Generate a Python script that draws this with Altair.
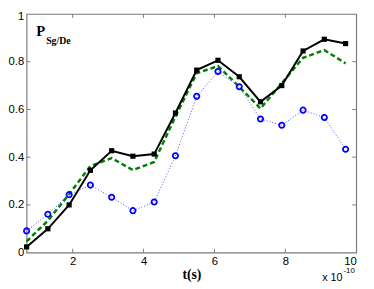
import altair as alt
import pandas as pd

# ---- data ----
t_vals = [0.7, 1.3, 1.9, 2.5, 3.1, 3.7, 4.3, 4.9, 5.5, 6.1, 6.7, 7.3, 7.9, 8.5, 9.1, 9.7]
black_vals = [0.024, 0.100, 0.200, 0.345, 0.427, 0.404, 0.413, 0.585, 0.765, 0.806,
              0.737, 0.632, 0.700, 0.845, 0.894, 0.876]
green_vals = [0.047, 0.134, 0.245, 0.363, 0.396, 0.346, 0.380, 0.570, 0.752, 0.782,
              0.695, 0.604, 0.710, 0.816, 0.849, 0.793]
blue_vals = [0.091, 0.161, 0.243, 0.283, 0.232, 0.176, 0.212, 0.406, 0.655, 0.759,
             0.695, 0.560, 0.534, 0.597, 0.566, 0.433]

x_ticks = [2, 4, 6, 8, 10]
y_ticks = [0, 0.2, 0.4, 0.6, 0.8, 1]
x_inner_ticks = [2, 4, 6, 8]
y_inner_ticks = [0.2, 0.4, 0.6, 0.8]

df = pd.DataFrame({"t": t_vals, "black": black_vals, "green": green_vals, "blue": blue_vals})
xt_df = pd.DataFrame({"t": x_inner_ticks})
yt_df = pd.DataFrame({"p": y_inner_ticks})

W, H = 337, 244
FRAME = "#7a7a7a"

xs = alt.Scale(domain=[0.7, 10], nice=False, zero=False)
ys = alt.Scale(domain=[0, 1], nice=False, zero=False)

x_axis = alt.Axis(values=x_ticks, title="t(s)", tickSize=0, domain=False, grid=False,
                  labelFont="Liberation Sans", labelFontSize=11.5, labelColor="black",
                  labelPadding=3, titleFont="Liberation Serif", titleFontWeight="bold",
                  titleFontSize=14, titleColor="black", titlePadding=1)
y_axis = alt.Axis(values=y_ticks, title=None, format="~g", tickSize=0, domain=False,
                  grid=False, labelFont="Liberation Sans", labelFontSize=11.5,
                  labelColor="black", labelPadding=3,
                  labelOffset={"condition": {"test": "datum.value == 1", "value": 2.5}, "value": 0})

X = alt.X("t:Q", scale=xs, axis=x_axis)


def Y(field):
    return alt.Y(f"{field}:Q", scale=ys, axis=y_axis)


base = alt.Chart(df)

blue_line = base.mark_line(color="#4d4dff", strokeWidth=1, strokeDash=[1, 2]).encode(x=X, y=Y("blue"))
green_line = base.mark_line(color="#008000", strokeWidth=2.5, strokeDash=[5, 3]).encode(x=X, y=Y("green"))
black_line = base.mark_line(color="black", strokeWidth=2).encode(x=X, y=Y("black"))
black_pts = base.mark_point(shape="square", filled=True, color="black", size=28, opacity=1).encode(x=X, y=Y("black"))
blue_pts = base.mark_point(shape="circle", filled=False, color="#0000ff", size=30,
                           strokeWidth=1.8, opacity=1).encode(x=X, y=Y("blue"))

# inward ticks on all four sides
tick_b = alt.Chart(xt_df).mark_rule(color=FRAME, strokeWidth=1).encode(
    x=alt.X("t:Q", scale=xs, axis=x_axis), y=alt.value(H), y2=alt.value(H - 4))
tick_t = alt.Chart(xt_df).mark_rule(color=FRAME, strokeWidth=1).encode(
    x=alt.X("t:Q", scale=xs, axis=x_axis), y=alt.value(0), y2=alt.value(4))
tick_l = alt.Chart(yt_df).mark_rule(color=FRAME, strokeWidth=1).encode(
    y=alt.Y("p:Q", scale=ys, axis=y_axis), x=alt.value(0), x2=alt.value(4))
tick_r = alt.Chart(yt_df).mark_rule(color=FRAME, strokeWidth=1).encode(
    y=alt.Y("p:Q", scale=ys, axis=y_axis), x=alt.value(W), x2=alt.value(W - 4))

# annotations
p_main = alt.Chart(pd.DataFrame({"s": ["P"]})).mark_text(
    font="Liberation Serif", fontWeight="bold", fontSize=15, align="left",
    baseline="alphabetic", color="black").encode(text="s:N", x=alt.value(10), y=alt.value(22))
p_sub = alt.Chart(pd.DataFrame({"s": ["Sg/De"]})).mark_text(
    font="Liberation Serif", fontWeight="bold", fontSize=10, align="left",
    baseline="alphabetic", color="black").encode(text="s:N", x=alt.value(20), y=alt.value(31))
exp_main = alt.Chart(pd.DataFrame({"s": ["x 10"]})).mark_text(
    font="Liberation Sans", fontSize=11, align="right", baseline="alphabetic",
    color="black").encode(text="s:N", x=alt.value(W - 14), y=alt.value(H + 29))
exp_sup = alt.Chart(pd.DataFrame({"s": ["-10"]})).mark_text(
    font="Liberation Sans", fontSize=8, align="left", baseline="alphabetic",
    color="black").encode(text="s:N", x=alt.value(W - 13), y=alt.value(H + 21))

chart = alt.layer(
    blue_line, green_line, black_line, black_pts, blue_pts,
    tick_b, tick_t, tick_l, tick_r,
    p_main, p_sub, exp_main, exp_sup,
).properties(
    width=W, height=H,
    autosize=alt.AutoSizeParams(type="none"),
    padding={"left": 19, "top": 3, "right": 10, "bottom": 32},
    background="white",
).configure_view(
    stroke=FRAME, strokeWidth=1.2
)

chart.save("out.html", embed_options={"renderer": "svg", "actions": False})
